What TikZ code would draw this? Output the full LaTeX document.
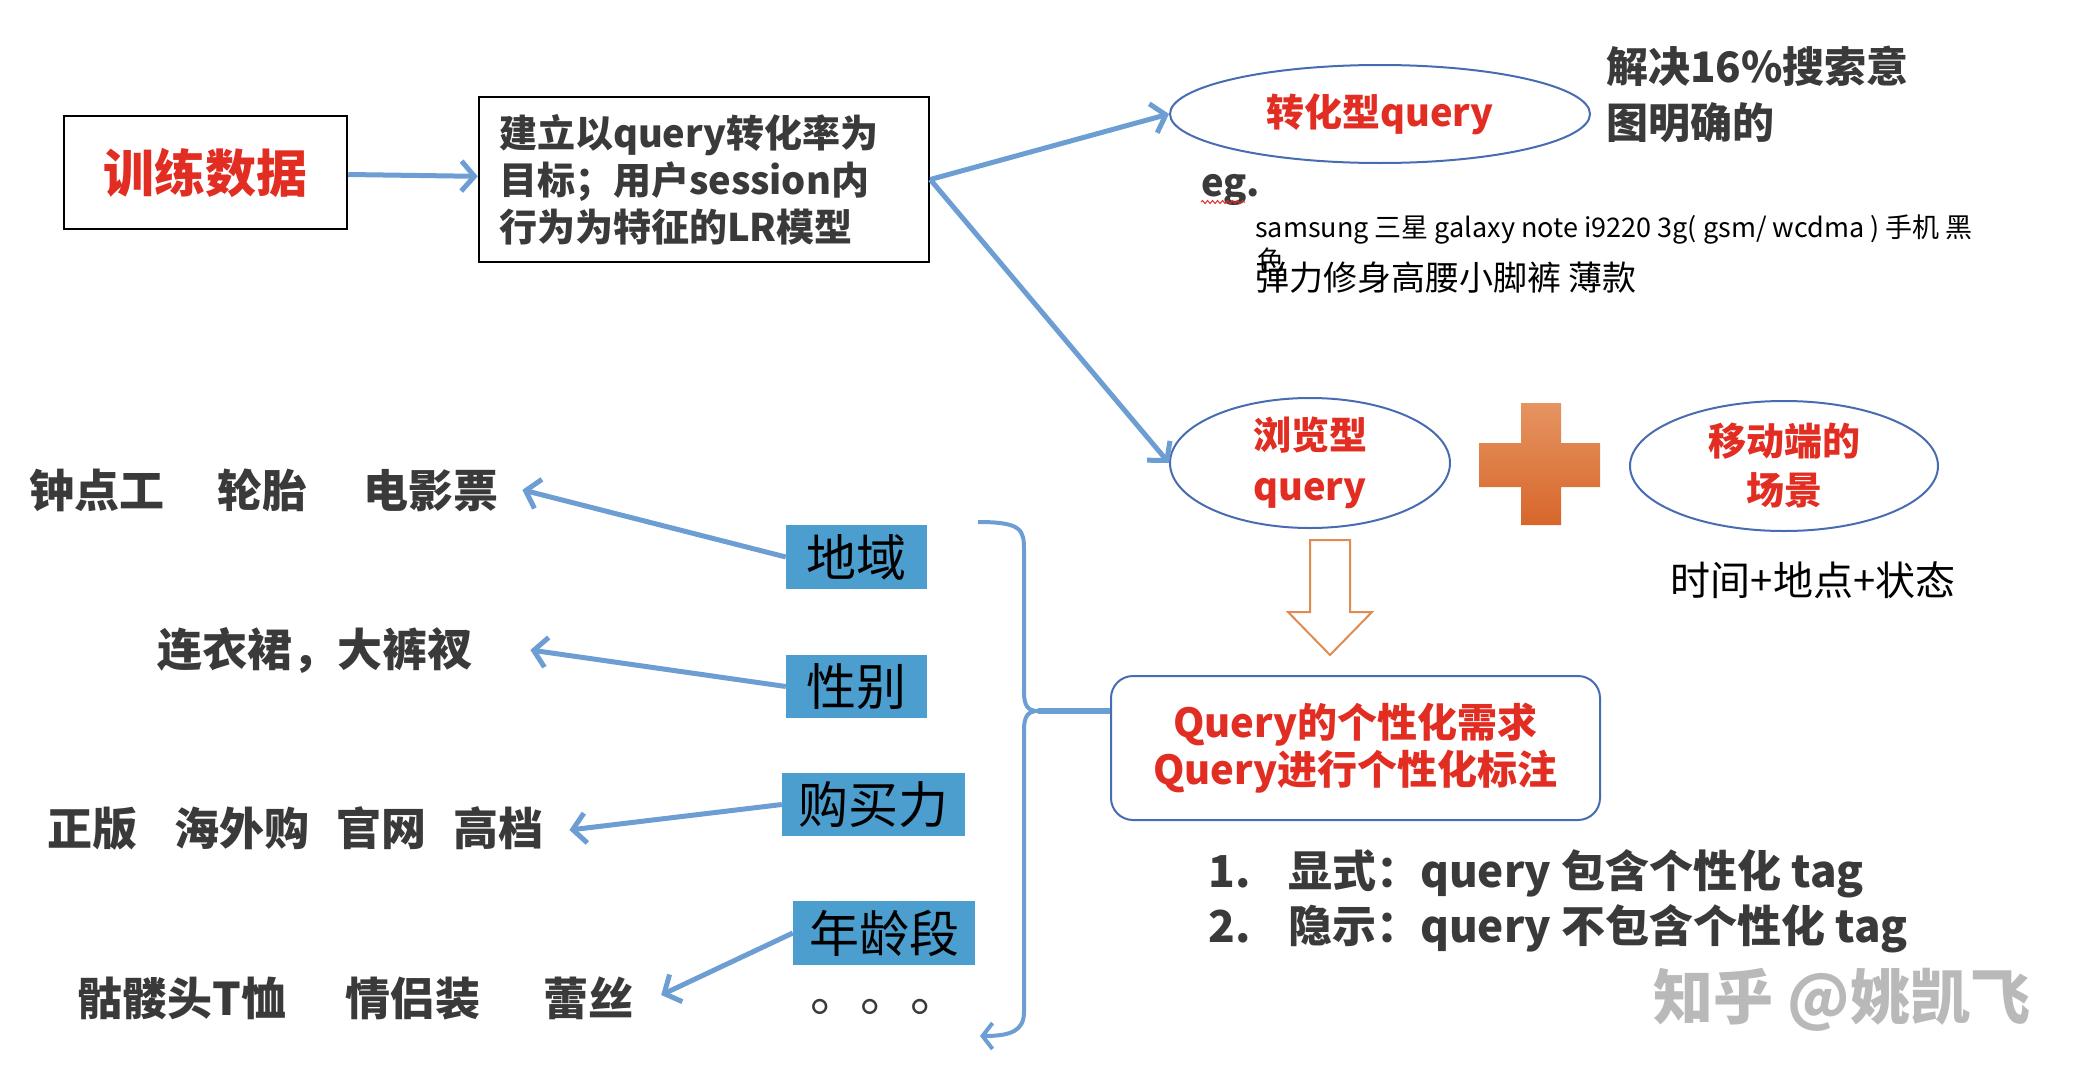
\documentclass[tikz,border=0pt]{standalone}
\usepackage{fontspec}
\setmainfont{Noto Sans CJK SC}
\usetikzlibrary{shapes.geometric,arrows.meta,decorations.pathmorphing,calc}
\definecolor{cred}{RGB}{226,45,35}
\definecolor{cdark}{RGB}{58,58,58}
\definecolor{carrow}{RGB}{108,158,212}
\definecolor{cell}{RGB}{72,108,178}
\definecolor{cbox}{RGB}{75,158,205}
\definecolor{corTop}{RGB}{230,148,98}
\definecolor{corBot}{RGB}{215,102,42}
\definecolor{corLine}{RGB}{222,140,82}
\definecolor{cwm}{RGB}{185,185,185}
\tikzset{
  arr/.style={draw=carrow, line width=5pt, -{Straight Barb[length=13pt,width=30pt]}},
  lbl/.style={anchor=base west, inner sep=0, font=\fontsize{45}{50}\selectfont\bfseries, text=cdark},
  tag/.style={fill=cbox, inner sep=0, font=\fontsize{50}{56}\selectfont, text=black},
  oval/.style={ellipse, draw=cell, line width=2pt, inner sep=0, align=center, text=cred},
}
\begin{document}
\begin{tikzpicture}[x=1pt,y=-1pt]
\useasboundingbox (0,0) rectangle (2086,1084);

% top row
\node[draw=black, line width=2.5pt, minimum width=283pt, minimum height=113pt, inner sep=0,
      text=cred, font=\fontsize{51}{60}\selectfont\bfseries] (train) at (205.5,172.5) {训练数据};
\node[draw=black, line width=2.5pt, minimum width=450pt, minimum height=165pt, text width=410pt,
      align=left, inner sep=0, text=cdark, font=\fontsize{38}{47}\selectfont\bfseries] (model) at (704,179.5)
      {建立以query转化率为\\目标；用户session内\\行为为特征的LR模型};

\node[oval, minimum width=420pt, minimum height=98pt, font=\fontsize{38}{47}\selectfont\bfseries] (conv) at (1380,114) {转化型query};
\node[anchor=west, align=left, inner sep=0, text=cdark, font=\fontsize{42}{56}\selectfont\bfseries] (solve) at (1606,94)
      {解决16\%搜索意\\图明确的};

\node[anchor=base west, inner sep=0, text=cdark, font=\fontsize{38}{44}\selectfont\bfseries] (eg) at (1201,196) {eg.};
\draw[cred, line width=1pt, decorate, decoration={snake, amplitude=1.5pt, segment length=5pt}]
      ([yshift=-6pt]eg.base west) -- ++(44,0);
\node[anchor=base west, inner sep=0, font=\fontsize{27}{32}\selectfont] (ex1) at (1255,237)
      {samsung 三星 galaxy note i9220 3g( gsm/ wcdma ) 手机 黑};
\node[anchor=base west, inner sep=0, font=\fontsize{27}{32}\selectfont] (ex1b) at (1257,270) {色};
\node[anchor=base west, inner sep=0, font=\fontsize{34}{40}\selectfont] (ex2) at (1255,290) {弹力修身高腰小脚裤 薄款};

% middle right
\node[oval, minimum width=280pt, minimum height=130pt, font=\fontsize{38}{51}\selectfont\bfseries] (browse) at (1310,463) {浏览型\\query};
\node[oval, minimum width=308pt, minimum height=130pt, font=\fontsize{38}{49}\selectfont\bfseries] (mobile) at (1784,466) {移动端的\\场景};
\shade[top color=corTop, bottom color=corBot]
  (1521,403) -- (1561,403) -- (1561,443) -- (1600,443) -- (1600,487) -- (1561,487) -- (1561,525)
  -- (1521,525) -- (1521,487) -- (1479,487) -- (1479,443) -- (1521,443) -- cycle;
\node[inner sep=0, font=\fontsize{40}{44}\selectfont, text=black] (time) at (1813,580) {时间+地点+状态};
\draw[corLine, line width=2pt, fill=white]
  (1310,540) -- (1350,540) -- (1350,612) -- (1372,612) -- (1330,655) -- (1288,612) -- (1310,612) -- cycle;

\node[draw=cell, line width=2pt, rounded corners=22pt, minimum width=489pt, minimum height=144pt, align=center,
      text=cred, font=\fontsize{40}{47}\selectfont\bfseries] (need) at (1355.5,748)
      {Query的个性化需求\\Query进行个性化标注};

\node[anchor=base west, inner sep=0, text=cdark, font=\fontsize{44}{50}\selectfont\bfseries] (n1) at (1208,887) {1.};
\node[anchor=base west, inner sep=0, text=cdark, font=\fontsize{44}{50}\selectfont\bfseries] (li1) at (1288,887) {显式：query 包含个性化 tag};
\node[anchor=base west, inner sep=0, text=cdark, font=\fontsize{44}{50}\selectfont\bfseries] (n2) at (1208,942) {2.};
\node[anchor=base west, inner sep=0, text=cdark, font=\fontsize{44}{50}\selectfont\bfseries] (li2) at (1288,942) {隐示：query 不包含个性化 tag};

% left part
\node[lbl] (l1) at (29,507) {钟点工\hspace{53pt}轮胎\hspace{56pt}电影票};
\node[lbl] (l2) at (157,666) {连衣裙，大裤衩};
\node[lbl] (l3) at (47,845) {正版\hspace{37pt}海外购\hspace{27pt}官网\hspace{27pt}高档};
\node[lbl] (l4) at (77,1015) {骷髅头T恤\hspace{60pt}情侣装\hspace{63pt}蕾丝};

\node[tag, minimum width=141pt, minimum height=64pt] (geo) at (856.5,557) {地域};
\node[tag, minimum width=141pt, minimum height=63pt] (gender) at (856.5,686.5) {性别};
\node[tag, minimum width=183pt, minimum height=63pt] (buy) at (873.5,804.5) {购买力};
\node[tag, minimum width=182pt, minimum height=64pt] (age) at (884,933) {年龄段};
\node[anchor=base west, inner sep=0, font=\fontsize{50}{56}\selectfont, text=cdark] (dots) at (810,1011) {。。。};

% connectors
\draw[arr] (train) -- (model);
\draw[arr] (model.east) -- (conv.west);
\draw[arr] (model.east) -- (browse.west);
\draw[arr] (geo.west) -- ([xshift=24pt]l1.east);
\draw[arr] (gender.west) -- ([xshift=58pt]l2.east);
\draw[arr] (buy.west) -- ([xshift=26pt,yshift=-2pt]l3.east);
\draw[arr] (age.west) -- ([xshift=27pt,yshift=3pt]l4.east);

% brace
\coordinate (btop) at (978,522);
\coordinate (btip) at (1038,711);
\coordinate (bbot) at (980,1036);
\draw[carrow, line width=4pt, -{Straight Barb[length=10pt,width=26pt]}]
  (btop) .. controls (1022,522) and (1024,530) .. (1024,550) -- (1024,692)
  .. controls (1024,706) and (1028,711) .. (btip)
  .. controls (1028,711) and (1024,716) .. (1024,730) -- (1024,1012)
  .. controls (1024,1030) and (1012,1036) .. (bbot);
\draw[carrow, line width=6pt] (btip) -- (btip -| need.west);

% watermark
\node[inner sep=0, font=\fontsize{60}{66}\selectfont\bfseries, text=cwm] (wm) at (1842,1000) {知乎 @姚凯飞};
\end{tikzpicture}
\end{document}
